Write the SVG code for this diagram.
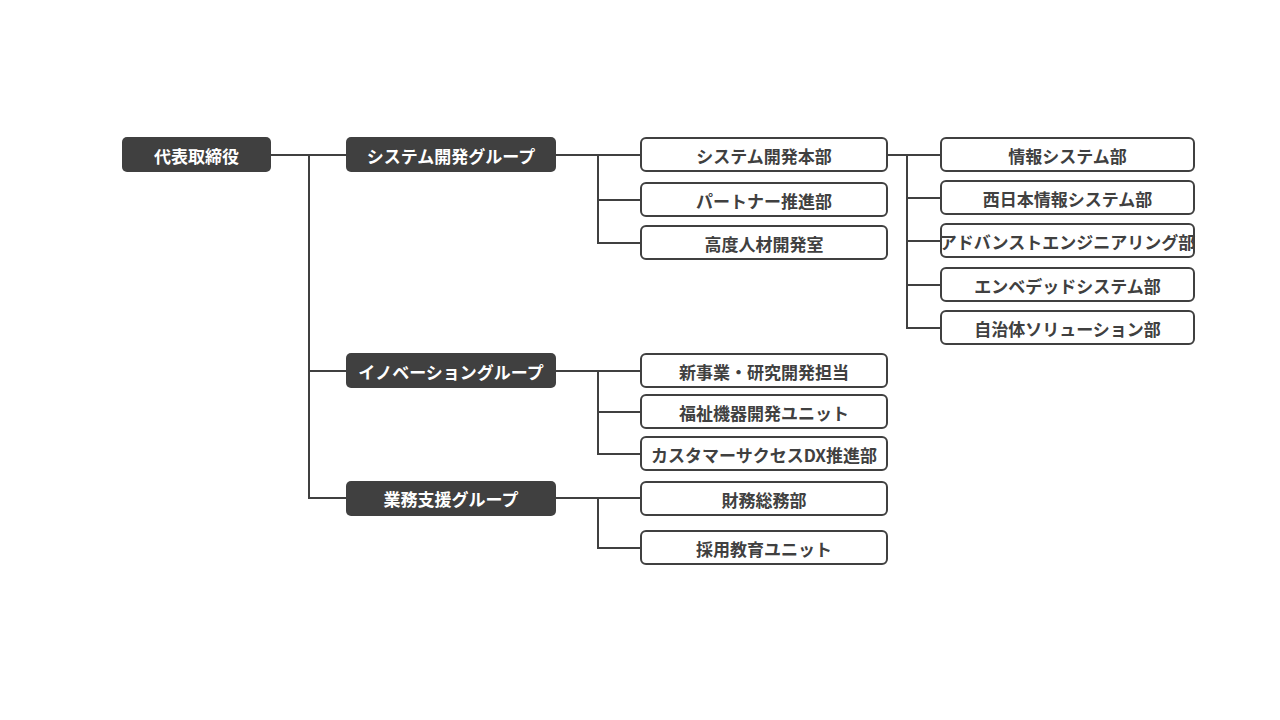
<svg xmlns="http://www.w3.org/2000/svg" width="1280" height="720" viewBox="0 0 1280 720">
<style>
.d{fill:#404040}
.w{fill:#fff;stroke:#404040;stroke-width:2}
text{font-family:"Noto Sans CJK JP","Liberation Sans",sans-serif;font-weight:bold;font-size:17px;text-anchor:middle;dominant-baseline:central}
.dt{fill:#fff}
.wt{fill:#404040}
#c path{fill:none;stroke:#404040;stroke-width:2}
</style>
<rect width="1280" height="720" fill="#fff"/>
<g id="c">
<path d="M271 155H346M309 155V498H346M309 371H346"/>
<path d="M556 155H641M598 155V243H641M598 200H641"/>
<path d="M556 371H641M598 371V454H641M598 412H641"/>
<path d="M556 498H641M598 498V548H641"/>
<path d="M887 155H941M907 155V328H941M907 198H941M907 241H941M907 285H941"/>
</g>
<g id="n0"><rect class="d" x="122" y="137" width="149" height="35" rx="5"/><text class="dt" x="196.5" y="155">代表取締役</text></g>
<g id="g1"><rect class="d" x="346" y="137" width="210" height="35" rx="5"/><text class="dt" x="451" y="155">システム開発グループ</text></g>
<g id="g2"><rect class="d" x="346" y="353" width="210" height="35" rx="5"/><text class="dt" x="451" y="371">イノベーショングループ</text></g>
<g id="g3"><rect class="d" x="346" y="481" width="210" height="35" rx="5"/><text class="dt" x="451" y="498">業務支援グループ</text></g>
<g id="a1"><rect class="w" x="641" y="138" width="246" height="33" rx="5"/><text class="wt" x="764" y="155">システム開発本部</text></g>
<g id="a2"><rect class="w" x="641" y="183" width="246" height="33" rx="5"/><text class="wt" x="764" y="200">パートナー推進部</text></g>
<g id="a3"><rect class="w" x="641" y="226" width="246" height="33" rx="5"/><text class="wt" x="764" y="243">高度人材開発室</text></g>
<g id="b1"><rect class="w" x="641" y="354" width="246" height="33" rx="5"/><text class="wt" x="764" y="371">新事業・研究開発担当</text></g>
<g id="b2"><rect class="w" x="641" y="395" width="246" height="33" rx="5"/><text class="wt" x="764" y="412">福祉機器開発ユニット</text></g>
<g id="b3"><rect class="w" x="641" y="437" width="246" height="33" rx="5"/><text class="wt" x="764" y="454">カスタマーサクセスDX推進部</text></g>
<g id="c1"><rect class="w" x="641" y="482" width="246" height="33" rx="5"/><text class="wt" x="764" y="499">財務総務部</text></g>
<g id="c2"><rect class="w" x="641" y="531" width="246" height="33" rx="5"/><text class="wt" x="764" y="548">採用教育ユニット</text></g>
<g id="s1"><rect class="w" x="941" y="138" width="253" height="33" rx="5"/><text class="wt" x="1067.5" y="155">情報システム部</text></g>
<g id="s2"><rect class="w" x="941" y="181" width="253" height="33" rx="5"/><text class="wt" x="1067.5" y="198">西日本情報システム部</text></g>
<g id="s3"><rect class="w" x="941" y="224" width="253" height="33" rx="5"/><text class="wt" x="1067.5" y="241">アドバンストエンジニアリング部</text></g>
<g id="s4"><rect class="w" x="941" y="268" width="253" height="33" rx="5"/><text class="wt" x="1067.5" y="285">エンベデッドシステム部</text></g>
<g id="s5"><rect class="w" x="941" y="311" width="253" height="33" rx="5"/><text class="wt" x="1067.5" y="328">自治体ソリューション部</text></g>
</svg>
